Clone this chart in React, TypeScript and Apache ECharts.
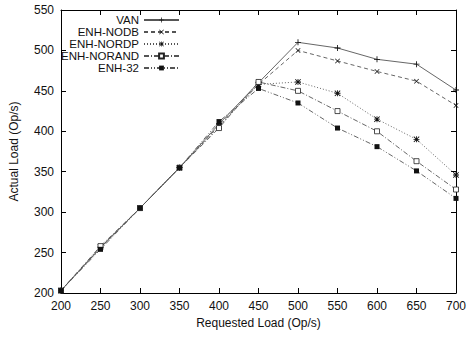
import React, { useEffect, useRef } from "react";
import * as echarts from "echarts";

const requested = [200, 250, 300, 350, 400, 450, 500, 550, 600, 650, 700];
const van = [203, 256, 305, 355, 409, 460, 510, 503, 489, 483, 451];
const enhNodb = [203, 256, 305, 355, 407, 458, 500, 487, 474, 462, 432];
const enhNordp = [203, 257, 305, 355, 406, 458, 461, 447, 415, 390, 346];
const enhNorand = [203, 258, 305, 355, 404, 461, 450, 425, 400, 363, 328];
const enh32 = [203, 254, 305, 355, 412, 453, 435, 404, 381, 351, 317];

const seriesNames = ["VAN", "ENH-NODB", "ENH-NORDP", "ENH-NORAND", "ENH-32"];

const PLUS = "path://M3,0h1v3h3v1h-3v3h-1v-3h-3v-1h3z";
const CROSS =
  "path://M0,0.7L0.7,0L3.5,2.8L6.3,0L7,0.7L4.2,3.5L7,6.3L6.3,7L3.5,4.2L0.7,7L0,6.3L2.8,3.5Z";
const STAR =
  "path://M3,0h1v3h3v1h-3v3h-1v-3h-3v-1h3zM0,0.7L0.7,0L3.5,2.8L6.3,0L7,0.7L4.2,3.5L7,6.3L6.3,7L3.5,4.2L0.7,7L0,6.3L2.8,3.5Z";

const FONT = "'Liberation Sans', Arial, Helvetica, sans-serif";

export default function App() {
  const ref = useRef<HTMLDivElement>(null);
  useEffect(() => {
    document.body.style.margin = "0";
    const chart = echarts.init(ref.current!, null, { renderer: "svg" });
    const pair = (ys: number[]) => requested.map((x, i) => [x, ys[i]]);
    const lineColor = "#555";
    const mk = (
      name: string,
      ys: number[],
      symbol: string,
      size: number,
      type: any,
      fill = "#111"
    ) => ({
      name,
      type: "line",
      data: pair(ys),
      symbol,
      symbolSize: size,
      showSymbol: true,
      lineStyle: { color: lineColor, width: 0.9, type },
      itemStyle: { color: fill, borderColor: "#222", borderWidth: fill === "#fff" ? 0.8 : 0 },
      emphasis: { disabled: true },
    });
    const tickStyle = { show: true, inside: true, length: 5, lineStyle: { color: "#000", width: 1 } };
    const lineSt = { show: true, lineStyle: { color: "#000", width: 1 } };
    chart.setOption({
      animation: false,
      textStyle: { fontFamily: FONT },
      grid: { left: 60, right: 18, top: 10, bottom: 44 },
      legend: {
        orient: "vertical",
        align: "right",
        right: 294,
        top: 14,
        padding: 0,
        itemGap: 0,
        itemWidth: 35,
        itemHeight: 6,
        data: seriesNames,
        textStyle: { fontFamily: FONT, fontSize: 11.5, color: "#111", lineHeight: 12 },
      },
      xAxis: [
        {
          type: "value",
          min: 200,
          max: 700,
          interval: 50,
          name: "Requested Load (Op/s)",
          nameLocation: "middle",
          nameGap: 22,
          nameTextStyle: { fontFamily: FONT, fontSize: 12, color: "#111" },
          axisLine: lineSt,
          axisTick: tickStyle,
          splitLine: { show: false },
          axisLabel: { fontFamily: FONT, fontSize: 12, color: "#111", margin: 7 },
        },
        {
          type: "value",
          position: "top",
          min: 200,
          max: 700,
          interval: 50,
          axisLine: lineSt,
          axisTick: tickStyle,
          splitLine: { show: false },
          axisLabel: { show: false },
        },
      ],
      yAxis: [
        {
          type: "value",
          min: 200,
          max: 550,
          interval: 50,
          name: "Actual Load (Op/s)",
          nameLocation: "middle",
          nameGap: 41,
          nameTextStyle: { fontFamily: FONT, fontSize: 12, color: "#111" },
          axisLine: lineSt,
          axisTick: tickStyle,
          splitLine: { show: false },
          axisLabel: { fontFamily: FONT, fontSize: 12, color: "#111", margin: 7 },
        },
        {
          type: "value",
          position: "right",
          min: 200,
          max: 550,
          interval: 50,
          axisLine: lineSt,
          axisTick: tickStyle,
          splitLine: { show: false },
          axisLabel: { show: false },
        },
      ],
      series: [
        mk(seriesNames[0], van, PLUS, 6, "solid"),
        mk(seriesNames[1], enhNodb, CROSS, 5, [4, 3]),
        mk(seriesNames[2], enhNordp, STAR, 6, [1, 2]),
        mk(seriesNames[3], enhNorand, "rect", 5, [5, 2, 1, 2], "#fff"),
        mk(seriesNames[4], enh32, "rect", 5, [5, 2, 1, 2, 1, 2]),
      ],
    });
    return () => chart.dispose();
  }, []);
  return <div ref={ref} style={{ width: 474, height: 337 }} />;
}
